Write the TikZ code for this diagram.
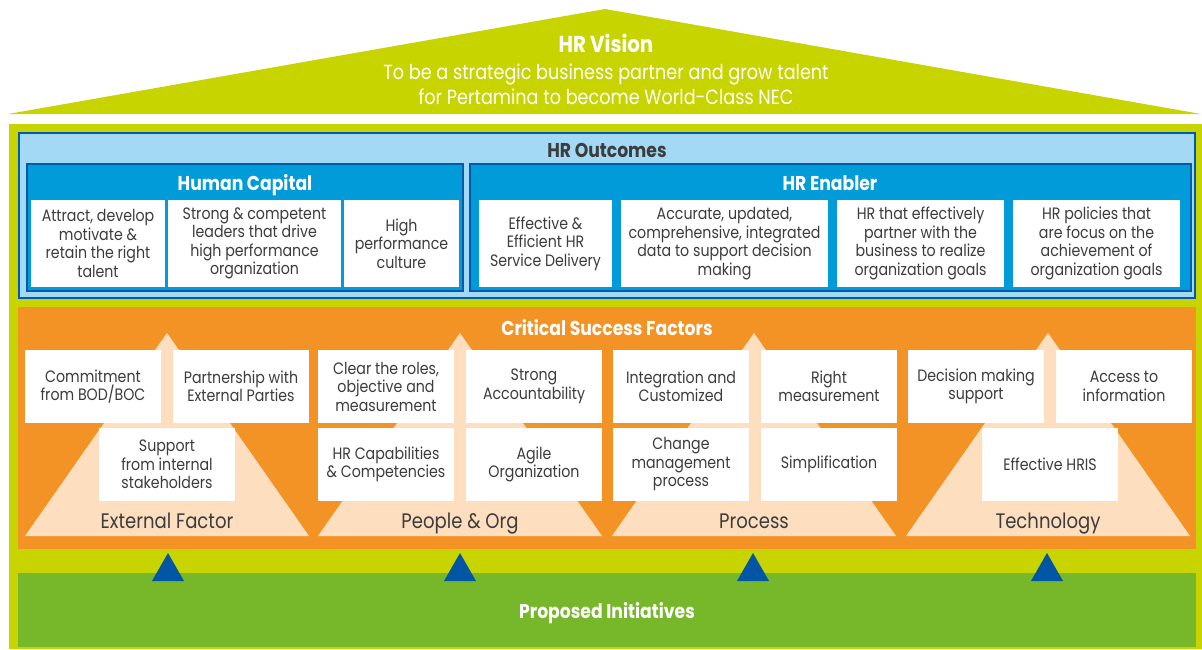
\documentclass[tikz,border=0pt]{standalone}
\usepackage{fontspec}
\setmainfont{Poppins}[FakeStretch=0.86]
\definecolor{cLime}{HTML}{C8D400}
\definecolor{cLight}{HTML}{A3D9F5}
\definecolor{cDark}{HTML}{005BAA}
\definecolor{cMid}{HTML}{009BD8}
\definecolor{cOrange}{HTML}{F39325}
\definecolor{cPeach}{HTML}{FDDFC0}
\definecolor{cGreen}{HTML}{77B72A}
\definecolor{cNavy}{HTML}{0056A4}
\definecolor{cText}{HTML}{3C3C3C}
\begin{document}
\begin{tikzpicture}[x=1pt,y=-1pt,
  every node/.style={inner sep=0pt, outer sep=0pt},
  wbox/.style={fill=white, align=center, text=cText, font=\fontsize{16.5}{18.5}\selectfont},
  hcbox/.style={wbox, minimum height=87pt},
  pbox/.style={wbox, minimum width=136pt, minimum height=73pt},
  ttl/.style={font=\bfseries\fontsize{20}{22}\selectfont, text=white, anchor=base},
  plab/.style={font=\fontsize{21}{24}\selectfont, text=cText, anchor=base},
  tri/.style={fill=cNavy},
  pyr/.style={fill=cPeach}
]
\useasboundingbox[fill=white] (0,0) rectangle (1202,649);
% roof
\fill[cLime] (8,114) -- (605,9) -- (1201,114) -- cycle;
\node[font=\bfseries\fontsize{23}{26}\selectfont, text=white] (vis) at (606,43) {HR Vision};
\node[font=\fontsize{20.5}{25}\selectfont, text=white, align=center] (vistxt) at (606,84)
  {To be a strategic business partner and grow talent\\for Pertamina to become World-Class NEC};
% frame
\fill[cLime] (9,124) rectangle (1202,649);
% outcomes
\draw[cDark, line width=2.5pt, fill=cLight] (19,133) rectangle (1195,298);
\node[font=\bfseries\fontsize{20}{22}\selectfont, text=cText, anchor=base] (out) at (607,157) {HR Outcomes};
\draw[cDark, line width=2pt, fill=cMid] (27,164) rectangle (463,291);
\draw[cDark, line width=2pt, fill=cMid] (470,164) rectangle (1191,291);
\node[ttl] (hc) at (245,190.5) {Human Capital};
\node[ttl] (en) at (830,190.5) {HR Enabler};
\node[hcbox, minimum width=134pt] (hc1) at (98,243.5) {Attract, develop\\motivate \&\\retain the right\\talent};
\node[hcbox, minimum width=173pt] (hc2) at (254.5,243.5) {Strong \& competent\\leaders that drive\\high performance\\organization};
\node[hcbox, minimum width=115pt] (hc3) at (401.5,243.5) {High\\performance\\culture};
\node[hcbox, minimum width=133pt] (en1) at (545.5,243.5) {Effective \&\\Efficient HR\\Service Delivery};
\node[hcbox, minimum width=207pt] (en2) at (724.5,243.5) {Accurate, updated,\\comprehensive, integrated\\data to support decision\\making};
\node[hcbox, minimum width=167pt] (en3) at (920.5,243.5) {HR that effectively\\partner with the\\business to realize\\organization goals};
\node[hcbox, minimum width=167pt] (en4) at (1096.5,243.5) {HR policies that\\are focus on the\\achievement of\\organization goals};
% CSF
\fill[cOrange] (18,307) rectangle (1196,549);
\node[ttl] (csf) at (607,335) {Critical Success Factors};
% pyramids
\foreach \c in {167,460,754,1048}{
  \fill[pyr] (\c-142,536) -- (\c,333) -- (\c+142,536) -- cycle;
}
% pyramid 1
\node[pbox] (a1) at (93,386.5) {Commitment\\from BOD/BOC};
\node[pbox] (a2) at (241,386.5) {Partnership with\\External Parties};
\node[pbox] (a3) at (167,464.5) {Support\\from internal\\stakeholders};
\node[plab] (la) at (167,528) {External Factor};
% pyramid 2
\node[pbox] (b1) at (386,386.5) {Clear the roles,\\objective and\\measurement};
\node[pbox] (b2) at (534,386.5) {Strong\\Accountability};
\node[pbox] (b3) at (386,464.5) {HR Capabilities\\\& Competencies};
\node[pbox] (b4) at (534,464.5) {Agile\\Organization};
\node[plab] (lb) at (460,528) {People \& Org};
% pyramid 3
\node[pbox] (c1) at (681,386.5) {Integration and\\Customized};
\node[pbox] (c2) at (829,386.5) {Right\\measurement};
\node[pbox] (c3) at (681,464.5) {Change\\management\\process};
\node[pbox] (c4) at (829,464.5) {Simplification};
\node[plab] (lc) at (754,528) {Process};
% pyramid 4
\node[pbox] (d1) at (976,386.5) {Decision making\\support};
\node[pbox] (d2) at (1124,386.5) {Access to\\information};
\node[pbox] (d3) at (1050,464.5) {Effective HRIS};
\node[plab] (ld) at (1048,528) {Technology};
% initiatives
\fill[cGreen] (18,573) rectangle (1196,647);
\node[ttl] (pi) at (607,618) {Proposed Initiatives};
\foreach \c in {168,460,753,1047}{
  \fill[tri] (\c-16,581) -- (\c,553) -- (\c+16,581) -- cycle;
}
\end{tikzpicture}
\end{document}
